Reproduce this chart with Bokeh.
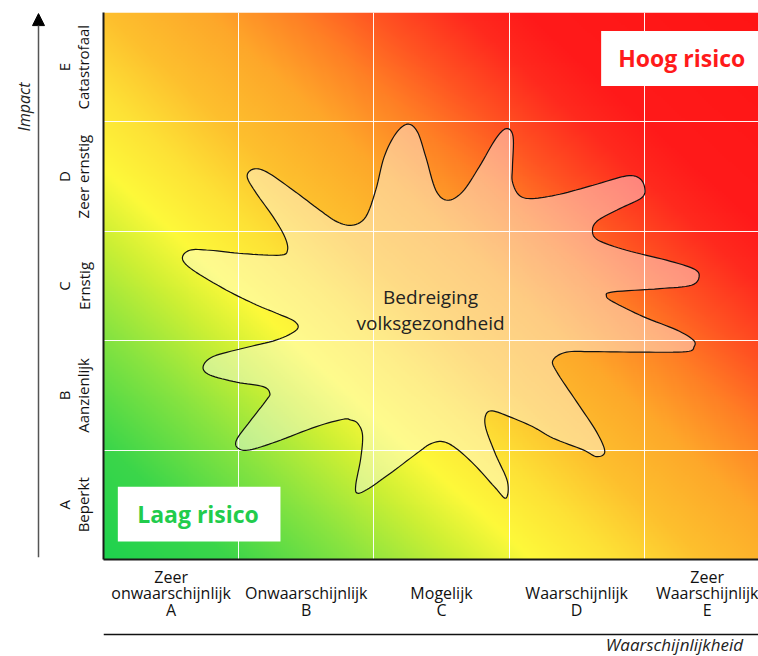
import numpy as np
from math import pi
from bokeh.plotting import figure
from bokeh.layouts import row, column
from bokeh.models import FixedTicker, Label, Arrow, NormalHead, BoxAnnotation, Span
from bokeh.embed import file_html
from bokeh.resources import INLINE

# ---- categories / tick labels ----
X_TICKS = [0.5, 1.5, 2.5, 3.5, 4.5]
X_LABELS = ["Zeer\nonwaarschijnlijk\nA", "\nOnwaarschijnlijk\nB", "\nMogelijk\nC",
            "\nWaarschijnlijk\nD", "Zeer\nWaarschijnlijk\nE"]
Y_TICKS = [0.5, 1.5, 2.5, 3.5, 4.5]
Y_LABELS = ["A\nBeperkt", "B\nAanzienlijk", "C\nErnstig", "D\nZeer ernstig", "E\nCatastrofaal"]
GRID_LINES = [1, 2, 3, 4]

# ---- threat blob outline (cell units: x = likelihood, y = impact) ----
BLOB_X = [1.063, 1.107, 1.206, 1.403, 1.600, 1.729, 1.842, 1.940, 2.014, 2.076, 2.162, 2.249,
          2.322, 2.384, 2.458, 2.544, 2.655, 2.779, 2.902, 2.981, 3.030, 3.025, 3.025, 3.075,
          3.173, 3.375, 3.622, 3.868, 3.967, 4.004, 3.979, 3.819, 3.659, 3.617, 3.659, 3.868,
          4.164, 4.362, 4.406, 4.349, 4.115, 3.770, 3.720, 3.770, 3.992, 4.238, 4.362, 4.369,
          4.312, 3.992, 3.622, 3.425, 3.326, 3.351, 3.499, 3.646, 3.708, 3.646, 3.548, 3.326,
          3.173, 3.001, 2.877, 2.828, 2.828, 2.902, 2.988, 2.976, 2.892, 2.744, 2.604, 2.507,
          2.419, 2.335, 2.138, 1.965, 1.879, 1.866, 1.903, 1.916, 1.879, 1.827, 1.773, 1.575,
          1.280, 1.082, 0.996, 0.984, 1.082, 1.206, 1.230, 1.181, 0.984, 0.786, 0.737, 0.811,
          1.033, 1.280, 1.428, 1.415, 1.280, 1.132, 0.910, 0.663, 0.584, 0.638, 0.786, 1.033,
          1.304, 1.361, 1.341, 1.255, 1.132]
BLOB_Y = [3.497, 3.568, 3.543, 3.376, 3.193, 3.086, 3.056, 3.132, 3.378, 3.680, 3.893, 3.979,
          3.909, 3.680, 3.376, 3.284, 3.360, 3.589, 3.847, 3.939, 3.863, 3.589, 3.452, 3.330,
          3.299, 3.339, 3.421, 3.506, 3.482, 3.390, 3.305, 3.207, 3.101, 3.010, 2.919, 2.827,
          2.736, 2.659, 2.590, 2.507, 2.476, 2.446, 2.410, 2.355, 2.220, 2.099, 2.007, 1.946,
          1.900, 1.895, 1.900, 1.895, 1.824, 1.718, 1.443, 1.169, 0.986, 0.941, 1.002, 1.109,
          1.215, 1.306, 1.358, 1.322, 1.200, 0.956, 0.712, 0.560, 0.664, 0.865, 1.020, 1.078,
          1.057, 0.986, 0.803, 0.652, 0.606, 0.682, 0.926, 1.139, 1.246, 1.276, 1.282, 1.215,
          1.078, 1.002, 1.017, 1.093, 1.261, 1.459, 1.520, 1.580, 1.621, 1.687, 1.763, 1.855,
          1.931, 2.007, 2.099, 2.175, 2.251, 2.327, 2.462, 2.644, 2.750, 2.827, 2.827, 2.796,
          2.782, 2.827, 2.949, 3.132, 3.345]

FONT = "Open Sans"
MAIN_H = 628          # strip with the matrix and its tick labels
FOOT_H = 28           # strip with the likelihood baseline and title
TOP, BOTTOM = 12, MAIN_H - 559
LEFT_W = 50
X_END = 4.845


def smooth_closed(xs, ys, n=8):
    pts = np.column_stack([xs, ys])
    m = len(pts)
    out = []
    for i in range(m):
        p0, p1, p2, p3 = pts[(i - 1) % m], pts[i], pts[(i + 1) % m], pts[(i + 2) % m]
        for t in np.linspace(0, 1, n, endpoint=False):
            t2, t3 = t * t, t * t * t
            out.append(0.5 * ((2 * p1) + (-p0 + p2) * t + (2 * p0 - 5 * p1 + 4 * p2 - p3) * t2
                              + (-p0 + 3 * p1 - 3 * p2 + p3) * t3))
    out = np.array(out)
    return list(out[:, 0]), list(out[:, 1])


def bare(fig):
    fig.axis.visible = False
    fig.grid.visible = False
    fig.outline_line_color = None
    fig.border_fill_color = "white"
    fig.background_fill_color = "white"


# ================= left strip: impact arrow =================
pl = figure(width=LEFT_W, height=MAIN_H, x_range=(0, LEFT_W), y_range=(0, 5),
            output_backend="svg", toolbar_location=None,
            min_border_left=0, min_border_right=0, min_border_top=TOP, min_border_bottom=BOTTOM)
bare(pl)
pl.add_layout(Arrow(x_start=38, y_start=0.02, x_end=38, y_end=4.99,
                    line_color="#555555", line_width=1.5,
                    end=NormalHead(size=12, fill_color="black", line_color="black")))
pl.add_layout(Label(x=23, y=4.137, text="Impact", angle=pi / 2, text_align="center",
                    text_baseline="middle", text_font=FONT, text_font_size="16px",
                    text_font_style="italic", text_color="#222222"))

# ================= main risk matrix =================
p = figure(width=758 - LEFT_W, height=MAIN_H, x_range=(0, X_END), y_range=(0, 5),
           output_backend="svg", toolbar_location=None,
           min_border_left=103 - LEFT_W, min_border_right=0, min_border_top=TOP,
           min_border_bottom=BOTTOM)
p.outline_line_color = None
p.background_fill_color = "white"
p.border_fill_color = "white"

# diagonal risk gradient background
stops = [0.00, 0.10, 0.20, 0.28, 0.335, 0.40, 0.47, 0.55, 0.62, 0.68, 0.75, 0.80, 1.00]
cols = ["#1ed24e", "#3cd64a", "#8ae440", "#cff034", "#fdf93a", "#fde236", "#fdc02e",
        "#fea82a", "#ff8025", "#ff5522", "#ff2a1e", "#ff1a1a", "#ff1414"]
rgb = np.array([[int(c[i:i + 2], 16) for i in (1, 3, 5)] for c in cols], dtype=float)
ny, nx = 276, 340
gx = (np.arange(nx) + 0.5) / nx * 5
gy = (np.arange(ny) + 0.5) / ny * 5
GX, GY = np.meshgrid(gx, gy)
s = (1.06 * GX + 0.94 * GY) / 10.0
img = np.empty((ny, nx), dtype=np.uint32)
view = img.view(dtype=np.uint8).reshape((ny, nx, 4))
for k in range(3):
    view[:, :, k] = np.interp(s, stops, rgb[:, k]).astype(np.uint8)
view[:, :, 3] = 255
p.image_rgba(image=[img], x=0, y=0, dw=5, dh=5, level="image")

# grid
p.xgrid.ticker = FixedTicker(ticks=GRID_LINES)
p.ygrid.ticker = FixedTicker(ticks=GRID_LINES)
p.grid.grid_line_color = "white"
p.grid.grid_line_width = 1
p.grid.grid_line_alpha = 0.95

# axes
for ax in (p.xaxis, p.yaxis):
    ax.major_tick_line_color = None
    ax.minor_tick_line_color = None
    ax.axis_line_color = "#1a1a1a"
    ax.axis_line_width = 2
    ax.major_label_text_font = FONT
    ax.major_label_text_color = "#111111"
p.xaxis.ticker = FixedTicker(ticks=X_TICKS)
p.xaxis.major_label_overrides = {t: l for t, l in zip(X_TICKS, X_LABELS)}
p.xaxis.major_label_text_font_size = "16px"
p.xaxis.major_label_text_line_height = 0.75
p.xaxis.major_label_standoff = 0
p.yaxis.ticker = FixedTicker(ticks=Y_TICKS)
p.yaxis.major_label_overrides = {t: l for t, l in zip(Y_TICKS, Y_LABELS)}
p.yaxis.major_label_text_font_size = "15px"
p.yaxis.major_label_text_line_height = 0.98
p.yaxis.major_label_orientation = "vertical"
p.yaxis.major_label_standoff = 4

# threat blob
bx, by = smooth_closed(BLOB_X, BLOB_Y)
p.patch(bx, by, fill_color="white", fill_alpha=0.42, line_color="#111111", line_width=1.2)
p.add_layout(Label(x=2.419, y=2.282, text="Bedreiging\nvolksgezondheid", text_align="center",
                   text_baseline="middle", text_font=FONT, text_font_size="19px",
                   text_line_height=1.02, text_color="#222222"))

# risk labels
p.add_layout(BoxAnnotation(left=3.681, right=5, bottom=4.329, top=4.832,
                           fill_color="white", fill_alpha=1, line_color=None))
p.add_layout(Label(x=4.277, y=4.58, text="Hoog risico", text_align="center",
                   text_baseline="middle", text_font=FONT, text_font_size="23px",
                   text_font_style="bold", text_color="#ff1a1a"))
p.add_layout(BoxAnnotation(left=0.106, right=1.309, bottom=0.164, top=0.664,
                           fill_color="white", fill_alpha=1, line_color=None))
p.add_layout(Label(x=0.699, y=0.414, text="Laag risico", text_align="center",
                   text_baseline="middle", text_font=FONT, text_font_size="23px",
                   text_font_style="bold", text_color="#22cc4c"))

# ================= footer: likelihood baseline and title =================
pb = figure(width=758, height=FOOT_H, x_range=(0, X_END), y_range=(0, FOOT_H),
            output_backend="svg", toolbar_location=None,
            min_border_left=103, min_border_right=0, min_border_top=0, min_border_bottom=0)
bare(pb)
pb.add_layout(Span(location=FOOT_H - 6, dimension="width", line_color="#111111", line_width=1.3))
pb.add_layout(Label(x=4.223, y=0.5, text="Waarschijnlijkheid", text_align="center",
                    text_baseline="bottom", text_font=FONT, text_font_size="17px",
                    text_font_style="italic", text_color="#222222"))

layout = column(row(pl, p), pb)
open("out.html", "w").write(file_html(layout, INLINE))
